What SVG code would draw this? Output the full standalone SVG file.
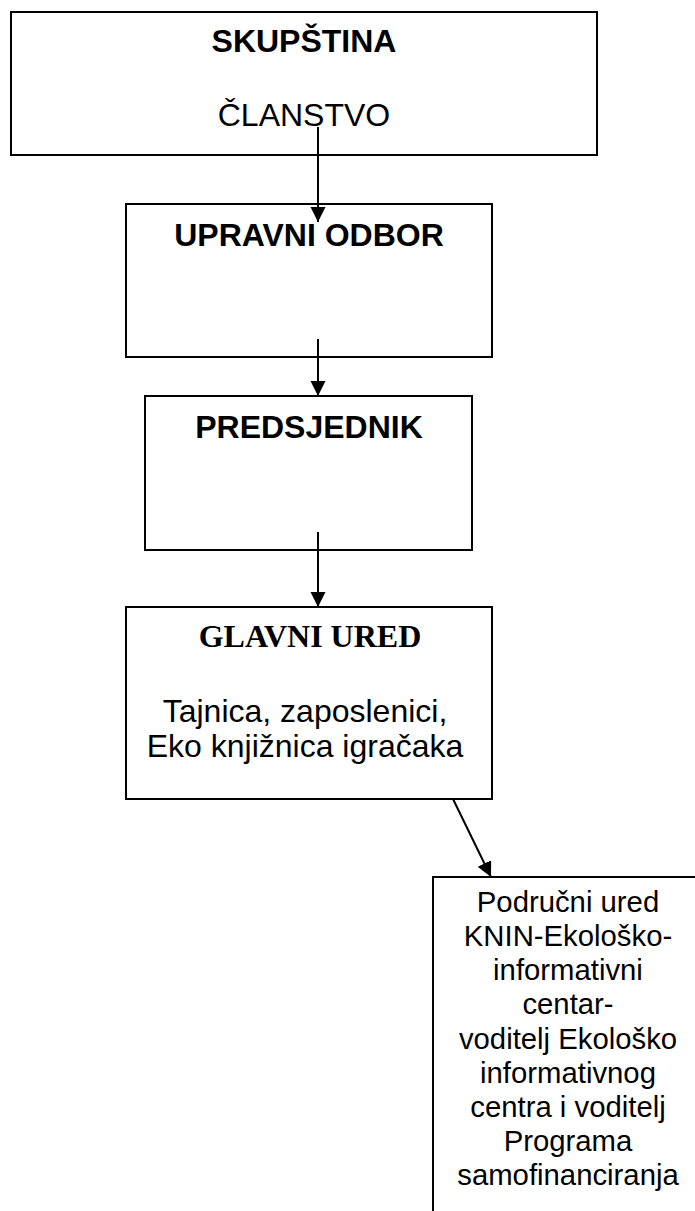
<svg xmlns="http://www.w3.org/2000/svg" width="695" height="1211" viewBox="0 0 695 1211">
<style>
.box{fill:#fff;stroke:#000;stroke-width:2}
.sb{font-family:"Liberation Sans",Arial,sans-serif;font-weight:bold;font-size:32px;text-anchor:middle;fill:#000}
.sr{font-family:"Liberation Sans",Arial,sans-serif;font-size:32px;text-anchor:middle;fill:#000}
.tb{font-family:"Liberation Serif","Times New Roman",serif;font-weight:bold;font-size:32px;text-anchor:middle;fill:#000}
.sm{font-family:"Liberation Sans",Arial,sans-serif;font-size:29.3px;text-anchor:middle;fill:#000}
.conn{stroke:#000;stroke-width:2;fill:none}
</style>
<defs>
<marker id="arr" markerUnits="userSpaceOnUse" markerWidth="16" markerHeight="16" viewBox="0 0 16 16" refX="15" refY="7.5" orient="auto">
<path d="M0,0 L15,7.5 L0,15 Z" fill="#000"/>
</marker>
</defs>
<g id="skupstina">
<rect class="box" x="11" y="12" width="586" height="143"/>
<text class="sb" x="304" y="52">SKUPŠTINA</text>
<text class="sr" x="304" y="126">ČLANSTVO</text>
</g>
<g id="upravni-odbor">
<rect class="box" x="126" y="204" width="366" height="153"/>
<text class="sb" x="309" y="246">UPRAVNI ODBOR</text>
</g>
<g id="predsjednik">
<rect class="box" x="145" y="396" width="327" height="154"/>
<text class="sb" x="309" y="438">PREDSJEDNIK</text>
</g>
<g id="glavni-ured">
<rect class="box" x="126" y="607" width="366" height="192"/>
<text class="tb" x="310" y="647">GLAVNI URED</text>
<text class="sr" x="305" y="722">Tajnica, zaposlenici,</text>
<text class="sr" x="305" y="757">Eko knjižnica igračaka</text>
</g>
<g id="podrucni-ured">
<rect class="box" x="433" y="877" width="272" height="400"/>
<text class="sm" x="568" y="912">Područni ured</text>
<text class="sm" x="568" y="946">KNIN-Ekološko-</text>
<text class="sm" x="568" y="980">informativni</text>
<text class="sm" x="568" y="1014">centar-</text>
<text class="sm" x="568" y="1049">voditelj Ekološko</text>
<text class="sm" x="568" y="1083">informativnog</text>
<text class="sm" x="568" y="1117">centra i voditelj</text>
<text class="sm" x="568" y="1151">Programa</text>
<text class="sm" x="568" y="1185">samofinanciranja</text>
</g>
<g id="connectors">
<line class="conn" x1="318" y1="127" x2="318" y2="222" marker-end="url(#arr)"/>
<line class="conn" x1="318" y1="339" x2="318" y2="396" marker-end="url(#arr)"/>
<line class="conn" x1="318" y1="532" x2="318" y2="607" marker-end="url(#arr)"/>
<line class="conn" x1="453" y1="799" x2="491" y2="877" marker-end="url(#arr)"/>
</g>
</svg>
